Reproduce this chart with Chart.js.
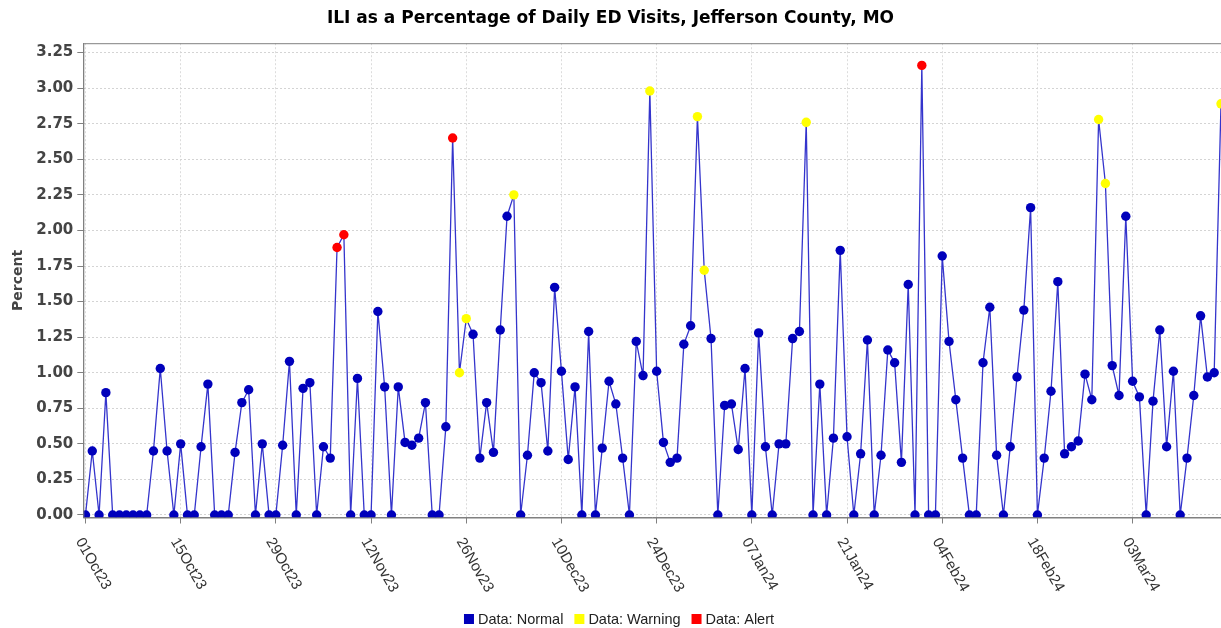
<!DOCTYPE html>
<html>
<head>
<meta charset="utf-8">
<script src="https://cdn.jsdelivr.net/npm/chart.js@4.4.1/dist/chart.umd.min.js"></script>
<style>
  html, body { margin: 0; padding: 0; background: #fff; }
</style>
</head>
<body>
<canvas id="chart" width="1221" height="628"></canvas>
<script>
// ILI % of daily ED visits, one value per day from 01Oct23 (day 0) to 16Mar24 (day 167)
const values = [
    0, 0.45, 0, 0.86, 0, 0, 0, 0, 0, 0,
    0.45, 1.03, 0.45, 0, 0.50, 0, 0, 0.48, 0.92, 0,
    0, 0, 0.44, 0.79, 0.88, 0, 0.50, 0, 0, 0.49,
    1.08, 0, 0.89, 0.93, 0, 0.48, 0.40, 1.88, 1.97, 0,
    0.96, 0, 0, 1.43, 0.90, 0, 0.90, 0.51, 0.49, 0.54,
    0.79, 0, 0, 0.62, 2.65, 1.00, 1.38, 1.27, 0.40, 0.79,
    0.44, 1.30, 2.10, 2.25, 0, 0.42, 1.00, 0.93, 0.45, 1.60,
    1.01, 0.39, 0.90, 0, 1.29, 0, 0.47, 0.94, 0.78, 0.40,
    0, 1.22, 0.98, 2.98, 1.01, 0.51, 0.37, 0.40, 1.20, 1.33,
    2.80, 1.72, 1.24, 0, 0.77, 0.78, 0.46, 1.03, 0, 1.28,
    0.48, 0, 0.50, 0.50, 1.24, 1.29, 2.76, 0, 0.92, 0,
    0.54, 1.86, 0.55, 0, 0.43, 1.23, 0, 0.42, 1.16, 1.07,
    0.37, 1.62, 0, 3.16, 0, 0, 1.82, 1.22, 0.81, 0.40,
    0, 0, 1.07, 1.46, 0.42, 0, 0.48, 0.97, 1.44, 2.16,
    0, 0.40, 0.87, 1.64, 0.43, 0.48, 0.52, 0.99, 0.81, 2.78,
    2.33, 1.05, 0.84, 2.10, 0.94, 0.83, 0, 0.80, 1.30, 0.48,
    1.01, 0, 0.40, 0.84, 1.40, 0.97, 1.00, 2.89
];
const warningDays = [55, 56, 63, 83, 90, 91, 106, 149, 150, 167];
const alertDays = [37, 38, 54, 123];

const tickDays = [0, 14, 28, 42, 56, 70, 84, 98, 112, 126, 140, 154];
const tickLabels = ['01Oct23', '15Oct23', '29Oct23', '12Nov23', '26Nov23', '10Dec23',
    '24Dec23', '07Jan24', '21Jan24', '04Feb24', '18Feb24', '03Mar24'];
const yTicks = [0, 0.25, 0.5, 0.75, 1, 1.25, 1.5, 1.75, 2, 2.25, 2.5, 2.75, 3, 3.25];

const levelNames = ['Data: Normal', 'Data: Warning', 'Data: Alert'];
const levelColors = ['#0000bb', '#ffff00', '#ff0000'];

const pointColors = values.map((v, i) => {
    if (alertDays.includes(i)) return levelColors[2];
    if (warningDays.includes(i)) return levelColors[1];
    return levelColors[0];
});

// frame, rotated date labels and legend
const extras = {
    id: 'extras',
    afterDraw(chart) {
        const { ctx, chartArea: a } = chart;
        const xs = chart.scales.x;
        ctx.save();
        ctx.strokeStyle = '#808080';
        ctx.lineWidth = 1;
        ctx.strokeRect(a.left + 0.5, a.top + 0.5, a.right - a.left, a.bottom - a.top);

        // x labels, rotated down to the right
        ctx.font = '15px "Liberation Sans", Arial, sans-serif';
        ctx.fillStyle = '#333';
        ctx.textAlign = 'left';
        ctx.textBaseline = 'top';
        tickDays.forEach((d, i) => {
            const px = xs.getPixelForValue(d);
            ctx.save();
            ctx.translate(px, a.bottom + 18);
            ctx.rotate(Math.PI / 3);
            ctx.fillText(tickLabels[i], 0, 0);
            ctx.restore();
        });

        // legend
        ctx.font = '14.5px "Liberation Sans", Arial, sans-serif';
        ctx.textBaseline = 'middle';
        const box = 10, gap = 4, itemGap = 11;
        const widths = levelNames.map(t => box + gap + ctx.measureText(t).width);
        const total = widths.reduce((s, w) => s + w, 0) + itemGap * (widths.length - 1);
        let x = 619 - total / 2;
        const y = 619;
        levelNames.forEach((t, i) => {
            ctx.fillStyle = levelColors[i];
            ctx.fillRect(x, y - box / 2, box, box);
            ctx.fillStyle = '#222';
            ctx.fillText(t, x + box + gap, y + 1);
            x += widths[i] + itemGap;
        });
        ctx.restore();
    }
};

new Chart(document.getElementById('chart'), {
    type: 'line',
    data: {
        datasets: [{
            data: values.map((v, i) => ({ x: i, y: v })),
            borderColor: '#3434cc',
            borderWidth: 1.3,
            pointRadius: 4.7,
            pointBackgroundColor: pointColors,
            pointBorderWidth: 0,
            tension: 0
        }]
    },
    options: {
        responsive: false,
        animation: false,
        layout: { padding: 0, autoPadding: false },
        plugins: {
            legend: { display: false },
            tooltip: { enabled: false },
            title: {
                display: true,
                text: 'ILI as a Percentage of Daily ED Visits, Jefferson County, MO',
                color: '#000',
                font: { family: 'DejaVu Sans', size: 17, weight: 'bold' },
                padding: { top: 8, bottom: 14.8 }
            }
        },
        scales: {
            x: {
                type: 'linear',
                min: -0.32,
                max: 167,
                afterBuildTicks: s => { s.ticks = tickDays.map(v => ({ value: v })); },
                afterFit: s => { s.height = 110.5; },
                ticks: { display: false },
                grid: { color: '#dcdcdc', tickColor: '#808080', tickLength: 6 },
                border: { display: true, color: '#808080', dash: [2, 2] }
            },
            y: {
                min: -0.0176,
                max: 3.316,
                afterBuildTicks: s => { s.ticks = yTicks.map(v => ({ value: v })); },
                afterFit: s => { s.width = 83.3; },
                ticks: {
                    callback: v => v.toFixed(2),
                    color: '#444',
                    font: { family: 'DejaVu Sans', size: 15, weight: 'bold' },
                    padding: 4
                },
                grid: { color: '#d4d4d4', tickColor: '#808080', tickLength: 6 },
                border: { display: true, color: '#808080', dash: [2, 2] },
                title: {
                    display: true,
                    text: 'Percent',
                    color: '#444',
                    font: { family: 'DejaVu Sans', size: 14, weight: 'bold' },
                    padding: { top: 10, bottom: 10 }
                }
            }
        }
    },
    plugins: [extras]
});
</script>
</body>
</html>
